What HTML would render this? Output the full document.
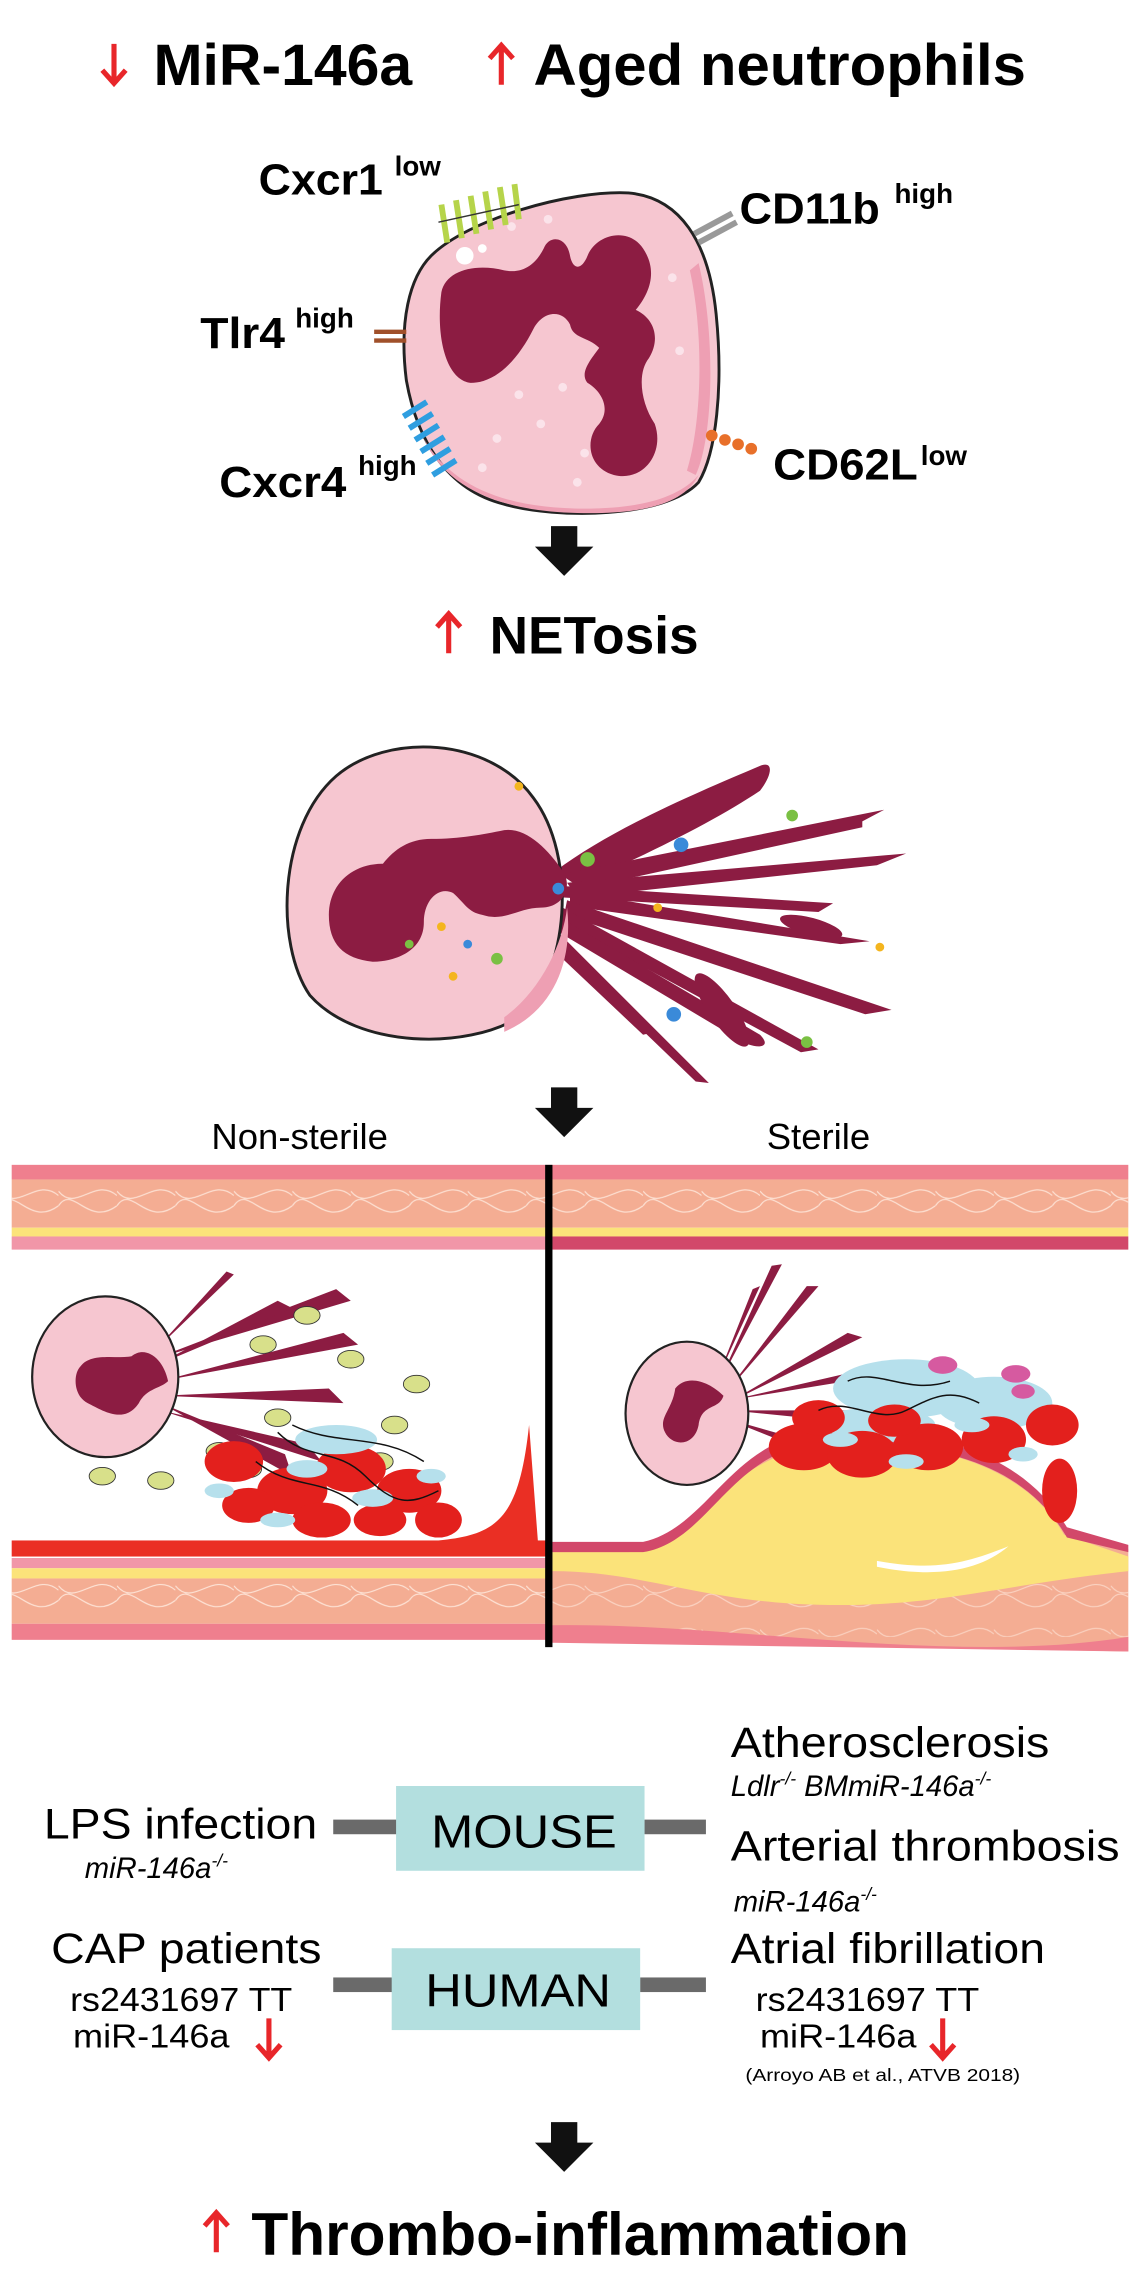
<!DOCTYPE html>
<html><head><meta charset="utf-8"><style>html,body{margin:0;padding:0;background:#fff}svg{display:block}</style></head>
<body>
<svg width="1140" height="2280" viewBox="0 0 780 1560" xmlns="http://www.w3.org/2000/svg" font-family="Liberation Sans, Arial, sans-serif">
<defs>
<g id="blkarrow"><path d="M-9,-18 h18 v14 h11 l-20,20 l-20,-20 h11 z" fill="#111"/></g>
<g id="redup"><path d="M0,14 V-12 M-8,-4 L0,-13 L8,-4" stroke="#e8262a" stroke-width="3.5" fill="none"/></g>
<g id="reddown"><path d="M0,-14 V12 M-8,4 L0,13 L8,4" stroke="#e8262a" stroke-width="3.5" fill="none"/></g>
<pattern id="fib" width="40" height="30" patternUnits="userSpaceOnUse"><path d="M0,15 C10,0 20,30 40,15 M0,5 C12,20 25,-5 40,8" stroke="#fde3d6" stroke-width="0.8" fill="none"/></pattern>
</defs>

<!-- Title -->
<use href="#reddown" x="78" y="44"/>
<text x="105" y="58" font-size="40" font-weight="bold" textLength="177" lengthAdjust="spacingAndGlyphs">MiR-146a</text>
<use href="#redup" x="343" y="44"/>
<text x="365" y="58" font-size="40" font-weight="bold" textLength="337" lengthAdjust="spacingAndGlyphs">Aged neutrophils</text>

<!-- Aged neutrophil -->
<path d="M295,175 C320,150 390,130 430,132 C465,135 485,165 490,215 C495,265 490,310 478,330 C455,355 380,355 345,345 C305,335 285,300 278,260 C273,220 280,190 295,175 Z" fill="#f6c6d0" stroke="#222" stroke-width="2"/>
<path d="M290,300 C310,335 350,348 400,348 C440,348 465,340 478,325 C468,345 440,352 395,351 C345,350 305,335 290,300 Z" fill="#ee9fb3"/>
<path d="M478,180 C490,230 488,300 476,325 L470,322 C480,290 482,230 472,185 Z" fill="#ee9fb3"/>
<path d="M302,200 C305,185 325,180 345,185 C360,188 368,178 372,170 C376,160 388,162 390,175 C392,185 398,185 402,175 C408,160 430,155 440,170 C450,185 445,200 435,212 C448,218 452,232 444,245 C436,255 438,275 448,290 C455,310 440,330 420,325 C402,320 400,300 410,290 C418,280 412,268 402,262 C396,255 405,245 410,238 C402,230 392,232 390,222 C385,212 372,212 365,225 C355,245 340,262 322,262 C305,260 298,230 302,200 Z" fill="#8c1c42"/>
<circle cx="318" cy="175" r="6" fill="#fff"/><circle cx="330" cy="170" r="3" fill="#fff"/>
<g fill="#fbe3ea"><circle cx="340" cy="300" r="3"/><circle cx="370" cy="290" r="3"/><circle cx="460" cy="190" r="3"/><circle cx="465" cy="240" r="3"/><circle cx="375" cy="150" r="3"/><circle cx="400" cy="310" r="3"/><circle cx="330" cy="320" r="3"/><circle cx="395" cy="330" r="3"/><circle cx="355" cy="270" r="3"/><circle cx="385" cy="265" r="3"/><circle cx="350" cy="155" r="3"/></g>
<!-- receptors -->
<g stroke="#b6d44a" stroke-width="4"><path d="M302,140 l4,26 M312,137 l4,26 M322,134 l4,26 M332,131 l4,26 M342,128 l4,26 M352,126 l3,24"/></g>
<path d="M300,152 L355,140" stroke="#333" stroke-width="1"/>
<path d="M475,160 l26,-14 M478,166 l26,-14" stroke="#999" stroke-width="4"/>
<path d="M256,227 h22 M256,233 h22" stroke="#a0502a" stroke-width="3"/>
<g stroke="#2f9ee0" stroke-width="4"><path d="M276,285 l16,-10 M280,293 l16,-10 M284,301 l16,-10 M288,309 l16,-10 M292,317 l16,-10 M296,325 l16,-10"/></g>
<g fill="#e8702a"><circle cx="487" cy="298" r="4"/><circle cx="496" cy="301" r="4"/><circle cx="505" cy="304" r="4"/><circle cx="514" cy="307" r="4"/></g>
<text x="177" y="133" font-size="30" font-weight="bold" textLength="85" lengthAdjust="spacingAndGlyphs">Cxcr1</text><text x="270" y="120" font-size="19" font-weight="bold">low</text>
<text x="506" y="153" font-size="30" font-weight="bold" textLength="96" lengthAdjust="spacingAndGlyphs">CD11b</text><text x="612" y="139" font-size="19" font-weight="bold">high</text>
<text x="137" y="238" font-size="30" font-weight="bold" textLength="58" lengthAdjust="spacingAndGlyphs">Tlr4</text><text x="202" y="224" font-size="19" font-weight="bold">high</text>
<text x="150" y="340" font-size="30" font-weight="bold" textLength="87" lengthAdjust="spacingAndGlyphs">Cxcr4</text><text x="245" y="325" font-size="19" font-weight="bold">high</text>
<text x="529" y="328" font-size="30" font-weight="bold" textLength="99" lengthAdjust="spacingAndGlyphs">CD62L</text><text x="630" y="318" font-size="19" font-weight="bold">low</text>

<use href="#blkarrow" x="386" y="378"/>
<use href="#redup" x="307" y="433"/>
<text x="335" y="447" font-size="36" font-weight="bold" textLength="143" lengthAdjust="spacingAndGlyphs">NETosis</text>

<!-- NET cell -->
<g transform="translate(0,6)">
<g fill="#8c1c42">
<path d="M380,590 C420,560 480,535 520,518 C530,514 528,525 520,535 C490,555 450,575 395,600 Z"/>
<path d="M385,592 L605,548 L590,556 L590,560 L398,602 Z"/>
<path d="M388,598 L620,578 L600,586 L395,608 Z"/>
<path d="M390,604 L595,638 L575,640 L390,614 Z"/>
<path d="M388,610 L610,685 L592,688 L386,620 Z"/>
<path d="M385,615 L560,712 L548,714 L382,624 Z"/>
<path d="M380,620 L520,702 C530,712 515,712 505,705 L376,628 Z"/>
<path d="M375,625 L485,735 L476,734 L370,632 Z"/>
<path d="M372,628 L448,700 L440,702 L368,634 Z"/>
<path d="M382,600 L570,612 L560,618 L384,608 Z"/>
<ellipse cx="494" cy="685" rx="30" ry="9" transform="rotate(55 494 685)"/>
<ellipse cx="555" cy="628" rx="22" ry="6" transform="rotate(15 555 628)"/>
</g>
<path d="M230,525 C265,495 335,498 365,540 C395,580 390,660 355,690 C320,712 245,712 212,675 C188,640 190,560 230,525 Z" fill="#f6c6d0" stroke="#222" stroke-width="2"/>
<path d="M345,690 C370,672 385,640 388,615 C392,650 380,685 345,700 Z" fill="#ee9fb3"/>
<path d="M225,620 C225,600 240,585 262,585 C270,575 280,568 295,568 C315,568 330,565 345,562 C360,560 375,575 385,590 C392,600 386,615 370,615 C355,615 345,625 330,620 C320,618 318,612 310,605 C300,600 290,610 290,625 C290,645 270,652 255,652 C235,650 225,640 225,620 Z" fill="#8c1c42"/>
<g><circle cx="302" cy="628" r="3" fill="#f4b51e"/><circle cx="320" cy="640" r="3" fill="#3a8ad9"/><circle cx="280" cy="640" r="3" fill="#7ac043"/><circle cx="340" cy="650" r="4" fill="#7ac043"/><circle cx="310" cy="662" r="3" fill="#f4b51e"/><circle cx="355" cy="532" r="3" fill="#f4b51e"/><circle cx="382" cy="602" r="4" fill="#3a8ad9"/><circle cx="402" cy="582" r="5" fill="#7ac043"/><circle cx="466" cy="572" r="5" fill="#3a8ad9"/><circle cx="542" cy="552" r="4" fill="#7ac043"/><circle cx="461" cy="688" r="5" fill="#3a8ad9"/><circle cx="552" cy="707" r="4" fill="#7ac043"/><circle cx="602" cy="642" r="3" fill="#f4b51e"/><circle cx="450" cy="615" r="3" fill="#f4b51e"/></g>
</g>

<use href="#blkarrow" x="386" y="762"/>
<text x="205" y="786" font-size="25" text-anchor="middle">Non-sterile</text>
<text x="560" y="786" font-size="25" text-anchor="middle">Sterile</text>

<!-- Vessel walls -->
<g>
<rect x="8" y="797" width="764" height="10" fill="#ef7f8e"/>
<rect x="8" y="807" width="764" height="33" fill="#f4ad93"/><rect x="8" y="807" width="764" height="33" fill="url(#fib)"/>
<rect x="8" y="840" width="764" height="6" fill="#fbe37a"/>
<rect x="8" y="846" width="366" height="9" fill="#f196a8"/>
<rect x="378" y="846" width="394" height="9" fill="#d2486a"/>
<rect x="8" y="1054" width="366" height="11" fill="#ea2f24"/>
<path d="M300,1054 C340,1050 355,1040 362,975 L368,1054 Z" fill="#ea2f24"/>
<rect x="8" y="1066" width="366" height="7" fill="#f196a8"/>
<rect x="8" y="1073" width="366" height="7" fill="#fbe37a"/>
<rect x="8" y="1080" width="366" height="31" fill="#f4ad93"/><rect x="8" y="1080" width="366" height="31" fill="url(#fib)"/>
<rect x="8" y="1111" width="366" height="11" fill="#ef7f8e"/>
<path d="M378,1060 L440,1060 C480,1050 500,990 560,985 C640,980 700,1000 730,1050 L772,1060 L772,1130 L378,1122 Z" fill="#f4ad93"/>
<rect x="378" y="1080" width="394" height="40" fill="url(#fib)" opacity="0.7"/>
<path d="M378,1112 C500,1110 650,1140 772,1120 L772,1130 L378,1124 Z" fill="#ef7f8e"/>
<path d="M378,1062 L430,1062 C470,1058 495,1000 555,990 C630,982 700,1000 728,1050 L772,1065 L772,1075 C680,1085 640,1100 560,1098 C480,1096 440,1075 378,1075 Z" fill="#fbe37a"/>
<path d="M378,1055 L440,1055 C485,1045 500,985 560,980 C640,975 700,995 730,1045 L772,1057 L772,1062 L730,1052 C700,1000 640,985 560,988 C500,992 485,1055 440,1062 L378,1062 Z" fill="#d2486a"/>
<path d="M600,1068 C640,1075 660,1070 690,1058 C670,1075 640,1080 600,1072 Z" fill="#fff"/>
</g>
<rect x="373" y="797" width="5" height="330" fill="#000"/>

<!-- left NET in vessel -->
<g fill="#8c1c42">
<path d="M105,930 L240,890 L230,882 Z"/><path d="M110,945 L245,920 L235,912 Z"/><path d="M110,955 L235,960 L225,950 Z"/><path d="M110,965 L220,1000 L210,988 Z"/><path d="M110,960 L200,1010 L195,995 Z"/><path d="M105,925 L160,872 L155,870 Z"/><path d="M105,935 L200,895 L190,890 Z"/>
</g>
<ellipse cx="72" cy="942" rx="50" ry="55" fill="#f6c6d0" stroke="#222" stroke-width="1.5"/>
<path d="M55,935 C62,925 80,930 90,928 C100,920 112,930 115,945 C110,950 100,950 95,960 C85,975 70,965 60,960 C50,955 50,940 55,935 Z" fill="#8c1c42"/>
<g fill="#d8e08a" stroke="#333" stroke-width="0.6">
<ellipse cx="180" cy="920" rx="9" ry="6"/><ellipse cx="210" cy="900" rx="9" ry="6"/><ellipse cx="240" cy="930" rx="9" ry="6"/><ellipse cx="285" cy="947" rx="9" ry="6"/><ellipse cx="190" cy="970" rx="9" ry="6"/><ellipse cx="260" cy="1000" rx="9" ry="6"/><ellipse cx="270" cy="975" rx="9" ry="6"/><ellipse cx="70" cy="1010" rx="9" ry="6"/><ellipse cx="110" cy="1013" rx="9" ry="6"/><ellipse cx="170" cy="1005" rx="9" ry="6"/><ellipse cx="150" cy="993" rx="9" ry="6"/>
</g>
<g fill="#e3201d">
<ellipse cx="160" cy="1000" rx="20" ry="14"/><ellipse cx="200" cy="1020" rx="24" ry="16"/><ellipse cx="240" cy="1005" rx="24" ry="16"/><ellipse cx="280" cy="1020" rx="22" ry="15"/><ellipse cx="220" cy="1040" rx="20" ry="12"/><ellipse cx="170" cy="1030" rx="18" ry="12"/><ellipse cx="300" cy="1040" rx="16" ry="12"/><ellipse cx="260" cy="1040" rx="18" ry="11"/>
</g>
<g fill="#b6e0ec"><ellipse cx="230" cy="985" rx="28" ry="10"/><ellipse cx="210" cy="1005" rx="14" ry="6"/><ellipse cx="255" cy="1025" rx="14" ry="6"/><ellipse cx="150" cy="1020" rx="10" ry="5"/><ellipse cx="190" cy="1040" rx="12" ry="5"/><ellipse cx="295" cy="1010" rx="10" ry="5"/></g>
<path d="M190,980 C210,1000 230,990 250,1010 S280,1030 300,1020 M175,1000 C200,1020 220,1010 245,1030 M200,975 C230,990 260,980 290,1000" stroke="#111" stroke-width="1" fill="none"/>

<!-- right NET in vessel -->
<g fill="#8c1c42">
<path d="M490,950 L535,865 L528,866 Z"/><path d="M495,955 L560,880 L552,880 Z"/><path d="M498,960 L590,915 L580,912 Z"/><path d="M500,965 L600,975 L590,965 Z"/><path d="M495,970 L570,1000 L565,990 Z"/><path d="M490,945 L520,880 L515,882 Z"/><path d="M500,958 L610,940 L600,935 Z"/>
</g>
<ellipse cx="470" cy="967" rx="42" ry="49" fill="#f6c6d0" stroke="#222" stroke-width="1.5"/>
<path d="M462,950 C470,940 485,945 495,955 C492,965 480,960 478,975 C475,990 460,990 455,980 C450,970 460,965 462,950 Z" fill="#8c1c42"/>
<g fill="#b6e0ec"><ellipse cx="620" cy="950" rx="50" ry="20"/><ellipse cx="680" cy="960" rx="40" ry="18"/><ellipse cx="600" cy="975" rx="40" ry="12"/></g>
<g fill="#e3201d">
<ellipse cx="550" cy="990" rx="24" ry="16"/><ellipse cx="590" cy="995" rx="24" ry="16"/><ellipse cx="635" cy="990" rx="24" ry="16"/><ellipse cx="680" cy="985" rx="22" ry="16"/><ellipse cx="720" cy="975" rx="18" ry="14"/><ellipse cx="560" cy="970" rx="18" ry="12"/><ellipse cx="612" cy="972" rx="18" ry="11"/><ellipse cx="725" cy="1020" rx="12" ry="22"/>
</g>
<g fill="#b6e0ec"><ellipse cx="575" cy="985" rx="12" ry="5"/><ellipse cx="620" cy="1000" rx="12" ry="5"/><ellipse cx="665" cy="975" rx="12" ry="5"/><ellipse cx="700" cy="995" rx="10" ry="5"/></g>
<g fill="#d65aa0"><ellipse cx="645" cy="934" rx="10" ry="6"/><ellipse cx="695" cy="940" rx="10" ry="6"/><ellipse cx="700" cy="952" rx="8" ry="5"/></g>
<path d="M560,965 C580,955 600,975 620,965 S650,950 670,960 M580,945 C600,935 620,955 650,945" stroke="#111" stroke-width="1" fill="none"/>

<!-- Lower section -->
<text x="30" y="1258" font-size="29" textLength="187" lengthAdjust="spacingAndGlyphs">LPS infection</text>
<text x="58" y="1285" font-size="20" font-style="italic">miR-146a<tspan font-size="12" dy="-8">-/-</tspan></text>
<rect x="228" y="1245" width="45" height="10" fill="#6a6a6a"/>
<rect x="441" y="1245" width="42" height="10" fill="#6a6a6a"/>
<rect x="271" y="1222" width="170" height="58" fill="#b3dfdf"/>
<text x="295" y="1264" font-size="32" textLength="127" lengthAdjust="spacingAndGlyphs">MOUSE</text>
<text x="500" y="1202" font-size="29" textLength="218" lengthAdjust="spacingAndGlyphs">Atherosclerosis</text>
<text x="500" y="1229" font-size="20" font-style="italic">Ldlr<tspan font-size="12" dy="-8">-/-</tspan><tspan dy="8"> BMmiR-146a</tspan><tspan font-size="12" dy="-8">-/-</tspan></text>
<text x="500" y="1273" font-size="29" textLength="266" lengthAdjust="spacingAndGlyphs">Arterial thrombosis</text>
<text x="502" y="1308" font-size="20" font-style="italic">miR-146a<tspan font-size="12" dy="-8">-/-</tspan></text>

<text x="35" y="1343" font-size="29" textLength="185" lengthAdjust="spacingAndGlyphs">CAP patients</text>
<text x="48" y="1376" font-size="23" textLength="152" lengthAdjust="spacingAndGlyphs">rs2431697 TT</text>
<text x="50" y="1401" font-size="23" textLength="107" lengthAdjust="spacingAndGlyphs">miR-146a</text>
<use href="#reddown" x="184" y="1395"/>
<rect x="228" y="1353" width="45" height="10" fill="#6a6a6a"/>
<rect x="438" y="1353" width="45" height="10" fill="#6a6a6a"/>
<rect x="268" y="1333" width="170" height="56" fill="#b3dfdf"/>
<text x="291" y="1373" font-size="32" textLength="127" lengthAdjust="spacingAndGlyphs">HUMAN</text>
<text x="500" y="1343" font-size="29" textLength="215" lengthAdjust="spacingAndGlyphs">Atrial fibrillation</text>
<text x="517" y="1376" font-size="23" textLength="153" lengthAdjust="spacingAndGlyphs">rs2431697 TT</text>
<text x="520" y="1401" font-size="23" textLength="107" lengthAdjust="spacingAndGlyphs">miR-146a</text>
<use href="#reddown" x="645" y="1395"/>
<text x="510" y="1424" font-size="12" textLength="188" lengthAdjust="spacingAndGlyphs">(Arroyo AB et al., ATVB 2018)</text>

<use href="#blkarrow" x="386" y="1470"/>
<use href="#redup" x="148" y="1527"/>
<text x="172" y="1543" font-size="41" font-weight="bold" textLength="450" lengthAdjust="spacingAndGlyphs">Thrombo-inflammation</text>
</svg>
</body></html>
